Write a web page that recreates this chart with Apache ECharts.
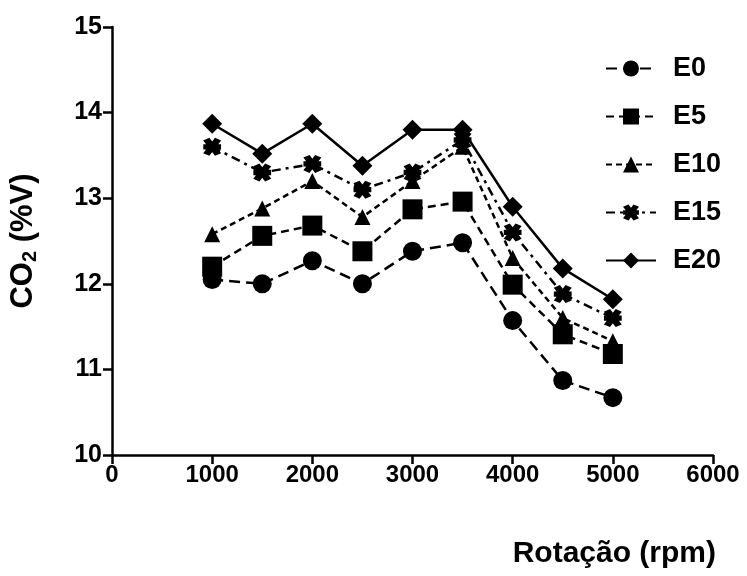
<!DOCTYPE html>
<html>
<head>
<meta charset="utf-8">
<script src="https://cdn.jsdelivr.net/npm/echarts@6/dist/echarts.min.js"></script>
<style>html,body{margin:0;padding:0;background:#fff;}#c{width:747px;height:576px;}</style>
</head>
<body>
<div id="c"></div>
<script>
const rpm = [1000, 1500, 2000, 2500, 3000, 3500, 4000, 4500, 5000];
const E0 = [12.05, 12.0, 12.27, 12.0, 12.38, 12.48, 11.57, 10.87, 10.67];
const E5 = [12.2, 12.56, 12.68, 12.38, 12.87, 12.96, 11.99, 11.41, 11.18];
const E10 = [12.58, 12.88, 13.2, 12.78, 13.2, 13.6, 12.3, 11.6, 11.33];
const E15 = [13.6, 13.3, 13.4, 13.1, 13.3, 13.68, 12.6, 11.88, 11.6];
const E20 = [13.87, 13.52, 13.87, 13.38, 13.8, 13.8, 12.9, 12.18, 11.82];
const seriesNames = ['E0', 'E5', 'E10', 'E15', 'E20'];
const xTicks = [0, 1000, 2000, 3000, 4000, 5000, 6000];
const yTicks = [10, 11, 12, 13, 14, 15];

const star = 'path://M2.5 7.16 L17.5 7.16 L17.5 13.16 L2.5 13.16 Z M7.6 0 L17.6 17.32 L12.4 20.32 L2.4 3 Z M17.6 3 L7.6 20.32 L2.4 17.32 L12.4 0 Z';
const styles = [
  {symbol: 'circle', size: 19, dash: [11, 6]},
  {symbol: 'rect', size: 20, dash: [8, 5]},
  {symbol: 'triangle', size: 16, dash: [6, 4]},
  {symbol: star, size: 18, dash: [9, 5, 3, 5]},
  {symbol: 'diamond', size: 20, dash: 'solid'}
];
const values = [E0, E5, E10, E15, E20];
const FONT = '"Liberation Sans", Arial, sans-serif';

const chart = echarts.init(document.getElementById('c'), null, {renderer: 'canvas'});
chart.setOption({
  animation: false,
  backgroundColor: '#fff',
  grid: {left: 111, right: 34, top: 27, bottom: 121},
  legend: {
    orient: 'vertical', left: 600, top: 50,
    itemWidth: 50, itemHeight: 20, itemGap: 21,
    textStyle: {fontFamily: FONT, fontWeight: 'bold', fontSize: 27, color: '#000', padding: [0, 0, 0, 12]},
    data: seriesNames
  },
  xAxis: {
    type: 'value', min: 0, max: 6000, interval: 1000,
    name: 'Rotação (rpm)', nameLocation: 'end', nameGap: 3,
    nameTextStyle: {fontFamily: FONT, fontWeight: 'bold', fontSize: 30, color: '#000', align: 'right', verticalAlign: 'top', padding: [84, 0, 0, 0]},
    axisLine: {show: true, lineStyle: {color: '#000', width: 2.5}},
    axisTick: {show: true, length: 9, lineStyle: {color: '#000', width: 2.5}},
    axisLabel: {fontFamily: FONT, fontWeight: 'bold', fontSize: 24, color: '#000', margin: 8,
      formatter: v => xTicks.includes(v) ? String(v) : ''},
    splitLine: {show: false}
  },
  yAxis: {
    type: 'value', min: 10, max: 15, interval: 1,
    name: '{a|CO}{s|2}{a| (%V)}', nameLocation: 'middle', nameGap: 72, nameRotate: 90,
    nameTextStyle: {rich: {
      a: {fontFamily: FONT, fontWeight: 'bold', fontSize: 31, color: '#000'},
      s: {fontFamily: FONT, fontWeight: 'bold', fontSize: 20, color: '#000', verticalAlign: 'bottom', padding: [13, 0, 0, 0]}
    }},
    axisLine: {show: true, onZero: false, lineStyle: {color: '#000', width: 2.5}},
    axisTick: {show: true, length: 9, lineStyle: {color: '#000', width: 2.5}},
    axisLabel: {fontFamily: FONT, fontWeight: 'bold', fontSize: 25, color: '#000', margin: 10,
      formatter: v => yTicks.includes(v) ? String(v) : ''},
    splitLine: {show: false}
  },
  series: seriesNames.map((n, i) => ({
    name: n, type: 'line',
    data: rpm.map((x, j) => [x, values[i][j]]),
    symbol: styles[i].symbol, symbolSize: styles[i].size,
    itemStyle: {color: '#000'},
    lineStyle: {color: '#000', width: 2.5, type: styles[i].dash},
    z: 2 + i
  }))
});
</script>
</body>
</html>
